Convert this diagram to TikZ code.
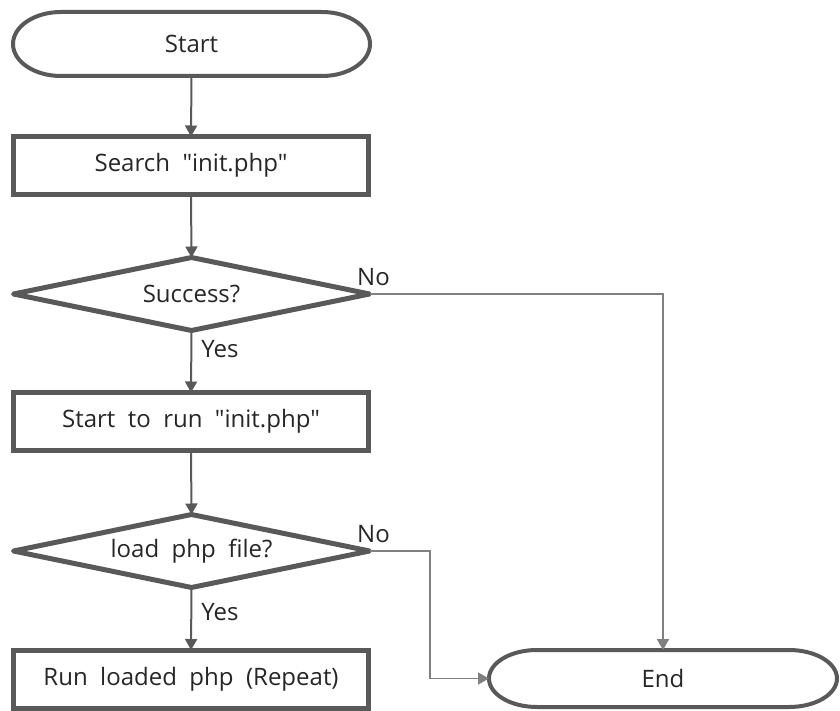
\documentclass[tikz,border=0pt]{standalone}
\usepackage{fontspec}
\setmainfont{Open Sans}[Ligatures=TeXOff]
\usetikzlibrary{shapes.geometric,arrows.meta}
\definecolor{linegray}{HTML}{595959}
\definecolor{thingray}{HTML}{808080}
\definecolor{txtgray}{HTML}{262626}
\tikzset{
  box/.style={rectangle,draw=linegray,line width=5pt,minimum width=355pt,minimum height=58pt,inner sep=0pt,outer sep=0pt},
  decision/.style={diamond,draw=linegray,line width=5pt,line join=round,aspect=4.6,minimum width=356pt,minimum height=73pt,inner sep=0pt,outer sep=0pt},
  terminal/.style={rectangle,inner sep=0pt,outer sep=0pt},
  termline/.style={draw=linegray,line width=4pt},
  flow/.style={draw=linegray,line width=2pt,-{Triangle[width=12pt,length=11pt]}},
  branch/.style={draw=thingray,line width=1.5pt,-{Triangle[width=12pt,length=11pt]}},
  lbl/.style={inner sep=0pt,text=txtgray}
}
\begin{document}
\begin{tikzpicture}[x=1pt,y=1pt,every node/.style={font=\fontsize{24}{28}\selectfont,text=txtgray}]
\useasboundingbox (0,0) rectangle (840,-711);
% shapes
\node[terminal,minimum width=357pt,minimum height=64pt] (start) at (191.5,-44) {Start};
\node[box] (search) at (191,-165.5) {Search \ "init.php"};
\node[decision] (succ) at (191.5,-294) {Success?};
\node[box] (run) at (191,-421.5) {Start \ to \ run \ "init.php"};
\node[decision] (load) at (191.5,-551) {load \ php \ file?};
\node[box] (loaded) at (191,-679) {Run \ loaded \ php \ (Repeat)};
\node[terminal,minimum width=348pt,minimum height=57pt] (end) at (663,-678.5) {End};
% rounded ends of start and end
\foreach \n/\r in {start/32,end/28.5}
\draw[termline] ([xshift=48pt]\n.north west) -- ([xshift=-48pt]\n.north east)
  arc[start angle=90,end angle=-90,x radius=48pt,y radius=\r pt]
  -- ([xshift=48pt]\n.south west)
  arc[start angle=270,end angle=90,x radius=48pt,y radius=\r pt] -- cycle;
% main flow
\draw[flow] (start.south) -- (search.north);
\draw[flow] (search.south) -- (succ.north);
\draw[flow] (succ.south) -- (run.north) node[lbl,pos=0.3,anchor=west,xshift=9pt]{Yes};
\draw[flow] (run.south) -- (load.north);
\draw[flow] (load.south) -- (loaded.north) node[lbl,pos=0.4,anchor=west,xshift=9pt]{Yes};
% no branches
\coordinate (turn) at (430,-551);
\draw[branch] (succ.east) -| (end.north) node[lbl,pos=0,anchor=south,xshift=4pt,yshift=8pt]{No};
\draw[branch] (load.east) -- (turn) |- (end.west);
\node[lbl,anchor=south] (no2) at ([xshift=4pt,yshift=8pt]load.east) {No};
\end{tikzpicture}
\end{document}
